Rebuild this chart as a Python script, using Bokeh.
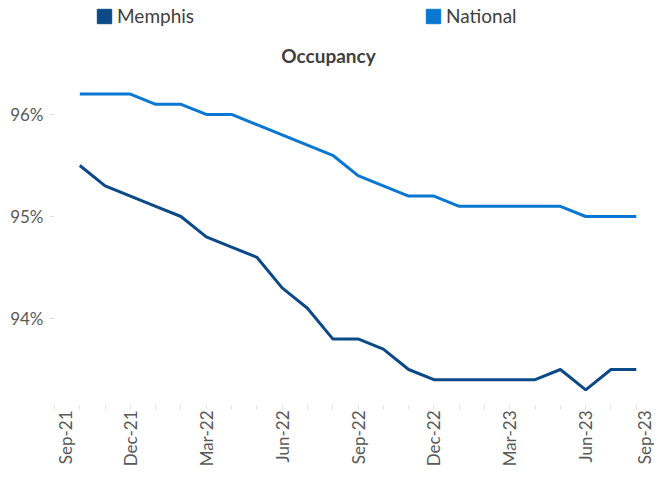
import math
from bokeh.plotting import figure
from bokeh.models import (Range1d, FixedTicker, Legend, LegendItem, ColumnDataSource, Label)
from bokeh.embed import file_html
from bokeh.resources import INLINE

# ---- data (monthly, Oct-21 .. Aug-23) ----
months = ["Oct-21", "Nov-21", "Dec-21", "Jan-22", "Feb-22", "Mar-22", "Apr-22", "May-22",
          "Jun-22", "Jul-22", "Aug-22", "Sep-22", "Oct-22", "Nov-22", "Dec-22", "Jan-23",
          "Feb-23", "Mar-23", "Apr-23", "May-23", "Jun-23", "Jul-23", "Aug-23"]
memphis = [95.5, 95.3, 95.2, 95.1, 95.0, 94.8, 94.7, 94.6, 94.3, 94.1, 93.8, 93.8,
           93.7, 93.5, 93.4, 93.4, 93.4, 93.4, 93.4, 93.5, 93.3, 93.5, 93.5]
national = [96.2, 96.2, 96.2, 96.1, 96.1, 96.0, 96.0, 95.9, 95.8, 95.7, 95.6, 95.4,
            95.3, 95.2, 95.2, 95.1, 95.1, 95.1, 95.1, 95.1, 95.0, 95.0, 95.0]
tick_labels = ["Sep-21", "Dec-21", "Mar-22", "Jun-22", "Sep-22", "Dec-22", "Mar-23", "Jun-23", "Sep-23"]
y_ticks = [94, 95, 96]

MEMPHIS_C = "#0B4A86"
NATIONAL_C = "#0A77D2"
FONT = "Lato"
TXT = "#404040"
TICK_TXT = "#595959"

# month index: Sep-21 = 0
x = list(range(1, len(months) + 1))
src = ColumnDataSource(dict(x=x, memphis=memphis, national=national, month=months))

p = figure(width=654, height=469, output_backend="svg", toolbar_location=None,
           x_range=Range1d(0, 23.72), y_range=Range1d(93.147, 97.088),
           min_border_left=54, min_border_right=0, min_border_top=3, min_border_bottom=64)
p.outline_line_color = None
p.xgrid.grid_line_color = None
p.ygrid.grid_line_color = None
p.background_fill_color = "white"
p.border_fill_color = "white"

l1 = p.line("x", "national", source=src, line_color=NATIONAL_C, line_width=3)
l2 = p.line("x", "memphis", source=src, line_color=MEMPHIS_C, line_width=3)

# legend proxies (square swatches; nothing drawn in the plot)
nan = float("nan")
q1 = p.quad(left=[nan], right=[nan], top=[nan], bottom=[nan], fill_color=MEMPHIS_C, line_color=MEMPHIS_C)
q2 = p.quad(left=[nan], right=[nan], top=[nan], bottom=[nan], fill_color=NATIONAL_C, line_color=NATIONAL_C)

# x axis: label positions (edge labels nudged inward as in the original), monthly minor ticks
label_pos = [0.42, 3, 6, 9, 12, 15, 18, 21, 23.38]
xt = FixedTicker(ticks=label_pos, minor_ticks=list(range(0, 24)))
p.xaxis.ticker = xt
p.xaxis.major_label_overrides = {pos: lab for pos, lab in zip(label_pos, tick_labels)}
p.xaxis.major_label_orientation = math.pi / 2
p.xaxis.axis_line_color = None
p.xaxis.major_tick_line_color = None
p.xaxis.major_tick_out = 0
p.xaxis.major_tick_in = 0
p.xaxis.minor_tick_line_color = "#e0e0e0"
p.xaxis.minor_tick_out = 4
p.xaxis.minor_tick_in = 0
p.xaxis.major_label_standoff = 1
p.xaxis.major_label_text_font = FONT
p.xaxis.major_label_text_font_size = "17px"
p.xaxis.major_label_text_color = TICK_TXT

p.yaxis.ticker = FixedTicker(ticks=y_ticks, minor_ticks=[])
p.yaxis.major_label_overrides = {t: f"{t}%" for t in y_ticks}
p.yaxis.axis_line_color = None
p.yaxis.major_tick_line_color = "#e0e0e0"
p.yaxis.major_tick_out = 5
p.yaxis.major_tick_in = 0
p.yaxis.minor_tick_line_color = None
p.yaxis.major_label_standoff = 6
p.yaxis.major_label_text_font = FONT
p.yaxis.major_label_text_font_size = "17px"
p.yaxis.major_label_text_color = TICK_TXT

title = Label(x=274, y=350, x_units="screen", y_units="screen", text="Occupancy",
              text_align="center", text_baseline="middle", text_font=FONT,
              text_font_style="bold", text_font_size="19px", text_color=TXT)
p.add_layout(title)

legend = Legend(items=[LegendItem(label="Memphis", renderers=[q1]),
                       LegendItem(label="National", renderers=[q2])],
                orientation="horizontal", location=(41, 378),
                glyph_width=18, glyph_height=18, label_standoff=4, spacing=230,
                label_height=14,
                padding=0, margin=0, border_line_color=None, background_fill_alpha=0,
                label_text_font=FONT, label_text_font_size="19px", label_text_color=TXT)
p.add_layout(legend, "center")

open("out.html", "w").write(file_html(p, INLINE))
